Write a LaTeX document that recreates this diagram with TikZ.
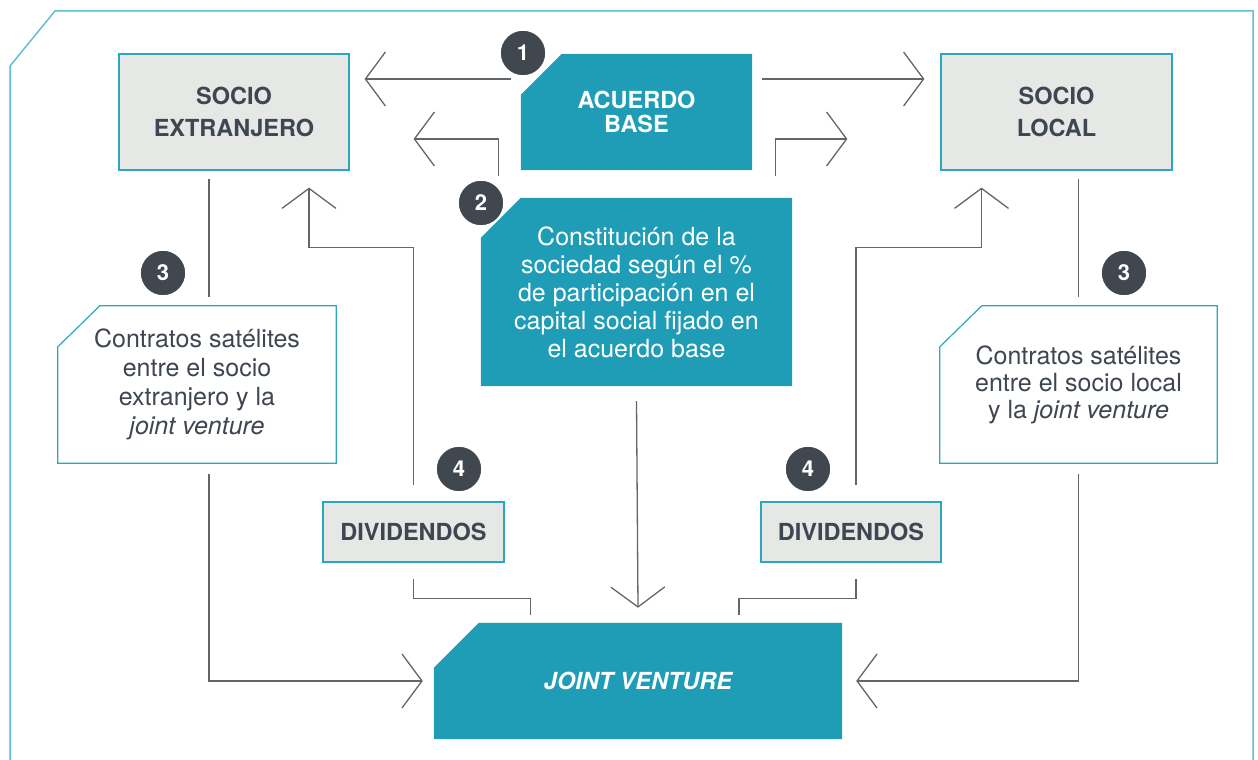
\documentclass[tikz,border=0pt]{standalone}
\usepackage{fontspec}
\setmainfont{TeX Gyre Heros}
\usetikzlibrary{arrows.meta,backgrounds}
\definecolor{fillteal}{HTML}{1F9DB6}
\definecolor{edgeteal}{HTML}{2AA8C0}
\definecolor{frameteal}{HTML}{62BFCF}
\definecolor{boxgray}{HTML}{E6E8E6}
\definecolor{darktext}{HTML}{3E4651}
\definecolor{dotgray}{HTML}{40474F}
\definecolor{linegray}{HTML}{62666B}
\begin{document}
\begin{tikzpicture}[x=1pt,y=1pt,
  graybox/.style={draw=edgeteal, line width=1.2pt, fill=boxgray, text=darktext, inner sep=0pt, align=center, font=\bfseries\fontsize{23.5}{32}\selectfont},
  tealbox/.style={text=white, inner sep=0pt, align=center},
  notebox/.style={text=darktext, inner sep=0pt, align=center, font=\fontsize{25}{29}\selectfont},
  numdot/.style={circle, fill=dotgray, draw=white, line width=1.5pt, text=white, minimum size=46pt, inner sep=0pt, font=\bfseries\fontsize{22}{22}\selectfont},
  conn/.style={draw=linegray, line width=1.3pt},
  arr/.style={conn, -{Straight Barb[length=20pt, width=54pt]}}]
\useasboundingbox (0,0) rectangle (1258,760);

% frame
\draw[frameteal, line width=1.5pt] (10,-5) -- (10,694) -- (55,749) -- (1253,749) -- (1253,-5);

% boxes
\node[graybox, minimum width=230pt, minimum height=116pt] (sx) at (234,648) {SOCIO\\EXTRANJERO};
\node[tealbox, minimum width=231pt, minimum height=116pt, font=\bfseries\fontsize{23.5}{24}\selectfont] (ab) at (636.5,648) {ACUERDO\\BASE};
\node[graybox, minimum width=231pt, minimum height=116pt] (sl) at (1056.5,648) {SOCIO\\LOCAL};
\node[tealbox, minimum width=311pt, minimum height=188pt, font=\fontsize{25}{28}\selectfont] (cs) at (636.5,468)
  {Constitución de la\\sociedad según el \%\\de participación en el\\capital social fijado en\\el acuerdo base};
\node[notebox, minimum width=278pt, minimum height=157pt] (cx) at (197,375.5)
  {Contratos satélites\\entre el socio\\extranjero y la\\\textit{joint venture}};
\node[notebox, minimum width=277pt, minimum height=157pt, font=\fontsize{25}{27}\selectfont] (cl) at (1078.5,375.5)
  {Contratos satélites\\entre el socio local\\y la \textit{joint venture}};
\node[graybox, minimum width=181pt, minimum height=60pt] (dx) at (413.5,228) {DIVIDENDOS};
\node[graybox, minimum width=180pt, minimum height=60pt] (dl) at (851,228) {DIVIDENDOS};
\node[tealbox, minimum width=408pt, minimum height=116pt, font=\bfseries\itshape\fontsize{23.5}{24}\selectfont] (jv) at (638,79) {JOINT VENTURE};

% chamfered shapes under the text
\begin{scope}[on background layer]
\foreach \n/\c in {ab/41, cs/40, jv/45}
  \fill[fillteal] (\n.north west) ++(0,-\c) -- ++(\c,\c) -- (\n.north east) -- (\n.south east) -- (\n.south west) -- cycle;
\foreach \n in {cx, cl}
  \draw[edgeteal, line width=1.2pt, fill=white] (\n.north west) ++(0,-41) -- ++(42,41) -- (\n.north east) -- (\n.south east) -- (\n.south west) -- cycle;
\end{scope}

% acuerdo base
\draw[arr] ([shift={(-10,33)}]ab.west) -- ([shift={(15,33)}]sx.east);
\draw[arr] ([shift={(10,33)}]ab.east) -- ([shift={(-16,33)}]sl.west);

% constitucion
\draw[arr] ([shift={(18,22)}]cs.north west) |- ([shift={(64,-27)}]sx.east);
\draw[arr] ([shift={(-17,22)}]cs.north east) |- ([shift={(-93,-27)}]sl.west);
\draw[arr] ([yshift=-15pt]cs.south) -- ([yshift=15pt]jv.north);

% contratos satelites
\draw[conn] ([shift={(-25,-8)}]sx.south) -- ++(0,-118);
\draw[arr] ([shift={(12,-11)}]cx.south) |- ([xshift=-11pt]jv.west);
\draw[conn] ([shift={(22,-8)}]sl.south) -- ++(0,-118);
\draw[arr] ([yshift=-11pt]cl.south) |- ([xshift=14pt]jv.east);

% dividendos
\draw[arr] ([yshift=16pt]dx.north) -- ++(0,238) -| ([shift={(75,-17)}]sx.south);
\draw[arr] ([shift={(5,16)}]dl.north) -- ++(0,238) -| ([shift={(-75,-17)}]sl.south);
\draw[conn] ([yshift=-16pt]dx.south) -- ++(0,-20) -- ++(117,0) -- ++(0,-16);
\draw[conn] ([shift={(5,-16)}]dl.south) -- ++(0,-20) -- ++(-117,0) -- ++(0,-16);

% numbers
\node[numdot] (n1) at (523,707) {1};
\node[numdot] (n2) at (481,557) {2};
\node[numdot] (n3a) at (163,487) {3};
\node[numdot] (n3b) at (1124,487) {3};
\node[numdot] (n4a) at (459,291) {4};
\node[numdot] (n4b) at (808,291) {4};
\end{tikzpicture}
\end{document}
